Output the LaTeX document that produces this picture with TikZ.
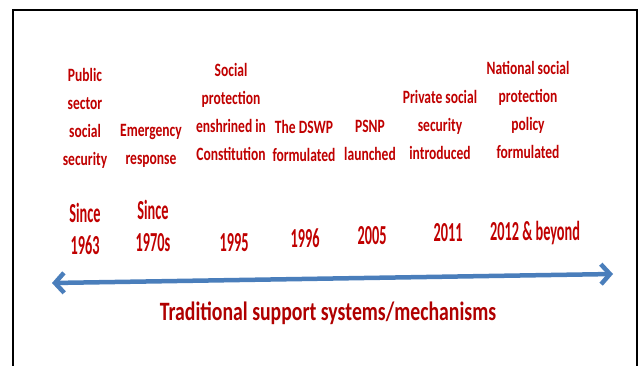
\documentclass[tikz,border=0pt]{standalone}
\usepackage{fontspec}
\usetikzlibrary{arrows.meta}
\newfontfamily\labfont[FakeStretch=0.72]{Carlito}
\newfontfamily\yrfont[FakeStretch=0.52]{Carlito}
\newfontfamily\ttlfont[FakeStretch=0.745]{Carlito}
\definecolor{labred}{HTML}{C00000}
\definecolor{ttlred}{HTML}{B00000}
\definecolor{arrblue}{HTML}{4A7EBB}
\tikzset{
  lab/.style={text=labred, align=center, inner sep=0pt,
    font=\labfont\bfseries\fontsize{18.8}{28}\selectfont},
  yr/.style={text=labred, align=center, inner sep=0pt,
    font=\yrfont\bfseries\fontsize{27.5}{32}\selectfont},
  ttl/.style={text=ttlred, inner sep=0pt,
    font=\ttlfont\bfseries\fontsize{26.5}{30}\selectfont},
  tline/.style={draw=arrblue, line width=4.5pt,
    arrows={Straight Barb[length=9pt,width=20pt]-Straight Barb[length=9pt,width=20pt]}},
  frame/.style={draw=black, line width=2pt}
}
\begin{document}
\begin{tikzpicture}[x=1pt,y=-1pt]
\useasboundingbox (0,0) rectangle (642,365);
\fill[white] (0,0) rectangle (642,365);
\coordinate (fbl) at (13,366);
\coordinate (ftl) at (13,10);
\coordinate (ftr) at (637,10);
\coordinate (fbr) at (637,366);
\draw[frame] (fbl) -- (ftl) -- (ftr) -- (fbr);

\node[lab] (a1) at (85,118) {Public\\sector\\social\\security};
\node[lab] (a2) at (151,146) {Emergency\\response};
\node[lab] (a3) at (231,112) {Social\\protection\\enshrined in\\Constitution};
\node[lab] (a4) at (304,141) {The DSWP\\formulated};
\node[lab] (a5) at (370,140) {PSNP\\launched};
\node[lab] (a6) at (440,125) {Private social\\security\\introduced};
\node[lab] (a7) at (528,110) {National social\\protection\\policy\\formulated};

\node[yr] (y1) at (85,229) {Since\\1963};
\node[yr] (y2) at (153,226) {Since\\1970s};
\node[yr] (y3) at (234,243) {1995};
\node[yr] (y4) at (305,238) {1996};
\node[yr] (y5) at (372,236) {2005};
\node[yr] (y6) at (448,233) {2011};
\node[yr] (y7) at (535,233) {2012 \& beyond};

\coordinate (L) at (52,283);
\coordinate (R) at (613,274);
\draw[tline] (L) -- (R);

\node[ttl] (t) at (328,313) {Traditional support systems/mechanisms};
\end{tikzpicture}
\end{document}
